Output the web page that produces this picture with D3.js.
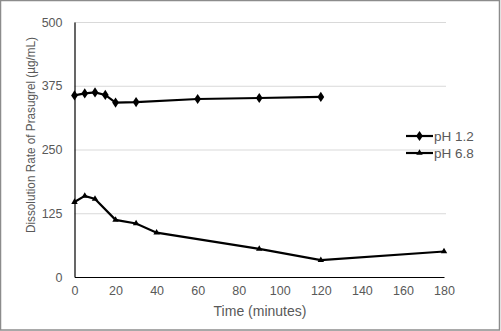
<!DOCTYPE html>
<html><head><meta charset="utf-8">
<script src="https://cdn.jsdelivr.net/npm/d3@7"></script>
<style>body{margin:0;background:#fff}svg{display:block;font-family:"Liberation Sans",Arial,sans-serif}</style>
</head><body>
<script>
const timesA = [0, 5, 10, 15, 20, 30, 60, 90, 120];
const valuesA = [356, 360, 362, 357, 342, 343, 349, 351, 353];
const timesB = [0, 5, 10, 20, 30, 40, 90, 120, 180];
const valuesB = [147, 159, 153, 112, 105, 87, 55, 33, 50];
const seriesNames = ["pH 1.2", "pH 6.8"];
const xTicks = [0, 20, 40, 60, 80, 100, 120, 140, 160, 180];
const yTicks = [0, 125, 250, 375, 500];

const W = 501, H = 331;
const svg = d3.select("body").append("svg").attr("width", W).attr("height", H);
svg.append("rect").attr("x", 0.5).attr("y", 0.5).attr("width", W - 2).attr("height", H - 1.5)
  .attr("fill", "#fff").attr("stroke", "#8c8c8c").attr("stroke-width", 1.5);

const x = d3.scaleLinear().domain([0, 180]).range([74.5, 444]);
const y = d3.scaleLinear().domain([0, 500]).range([277, 22]);

// gridlines
svg.append("g").selectAll("line").data(yTicks.filter(d => d > 0)).join("line")
  .attr("x1", x(0)).attr("x2", 446).attr("y1", d => y(d) + 0.5).attr("y2", d => y(d) + 0.5)
  .attr("stroke", "#d9d9d9").attr("stroke-width", 1);

// y axis
const yAxis = svg.append("g").attr("transform", `translate(${x(0)},0)`)
  .call(d3.axisLeft(y).tickValues(yTicks).tickSize(0).tickPadding(12));
yAxis.select(".domain").attr("stroke", "#000").attr("stroke-width", 1.2);
yAxis.selectAll("text").attr("font-size", 12.5).attr("fill", "#595959").attr("font-family", "Liberation Sans, Arial, sans-serif");

// x axis
const xAxis = svg.append("g").attr("transform", `translate(0,${y(0)})`)
  .call(d3.axisBottom(x).tickValues(xTicks).tickSize(0).tickPadding(9));
xAxis.select(".domain").attr("stroke", "#000").attr("stroke-width", 1.2);
xAxis.selectAll("text").attr("font-size", 12.5).attr("fill", "#595959").attr("font-family", "Liberation Sans, Arial, sans-serif");

// titles
svg.append("text").attr("x", 260).attr("y", 316).attr("text-anchor", "middle")
  .attr("font-size", 14).attr("fill", "#595959").text("Time (minutes)");
svg.append("text").attr("transform", "translate(35,135) rotate(-90)").attr("text-anchor", "middle")
  .attr("font-size", 13.5).attr("fill", "#595959")
  .attr("textLength", 196).attr("lengthAdjust", "spacingAndGlyphs")
  .text("Dissolution Rate of Prasugrel  (µg/mL)");

const line = d3.line().x(d => x(d[0])).y(d => y(d[1]));
const dataA = timesA.map((t, i) => [t, valuesA[i]]);
const dataB = timesB.map((t, i) => [t, valuesB[i]]);

svg.append("path").datum(dataA).attr("d", line).attr("fill", "none").attr("stroke", "#000").attr("stroke-width", 2.2);
svg.append("path").datum(dataB).attr("d", line).attr("fill", "none").attr("stroke", "#000").attr("stroke-width", 2.2);

const diamond = d3.symbol().type(d3.symbolDiamond2 || d3.symbolDiamond).size(40);
const tri = d3.symbol().type(d3.symbolTriangle).size(18);

svg.append("g").selectAll("path").data(dataA).join("path")
  .attr("transform", d => `translate(${x(d[0])},${y(d[1])}) scale(1.15,1)`).attr("d", d3.symbol().type(d3.symbolDiamond).size(30)).attr("fill", "#000");
svg.append("g").selectAll("path").data(dataB).join("path")
  .attr("transform", d => `translate(${x(d[0])},${y(d[1])})`).attr("d", tri).attr("fill", "#000");

// legend
const legend = svg.append("g");
const ly = [136, 153];
seriesNames.forEach((name, i) => {
  legend.append("line").attr("x1", 406).attr("x2", 433).attr("y1", ly[i]).attr("y2", ly[i])
    .attr("stroke", "#000").attr("stroke-width", 2.2);
  legend.append("path").attr("transform", `translate(419.5,${ly[i]})` + (i === 0 ? " scale(1.15,1)" : ""))
    .attr("d", i === 0 ? d3.symbol().type(d3.symbolDiamond).size(30)() : tri()).attr("fill", "#000");
  legend.append("text").attr("x", 434).attr("y", ly[i] + 4.5).attr("font-size", 13.5)
    .attr("fill", "#595959").text(name);
});
</script>
</body></html>
